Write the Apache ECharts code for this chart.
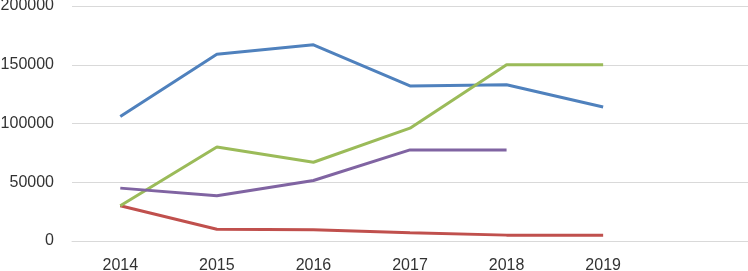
<!DOCTYPE html>
<html>
<head>
<meta charset="utf-8">
<script src="https://cdn.jsdelivr.net/npm/echarts@6/dist/echarts.min.js"></script>
<style>
  html, body { margin: 0; padding: 0; background: #fff; }
  #chart { width: 748px; height: 271px; }
</style>
</head>
<body>
<div id="chart"></div>
<script>
// categories (last slot is empty, as in the original)
var years = ['2014', '2015', '2016', '2017', '2018', '2019', ''];

var seriesBlue   = [106000, 159000, 167000, 132000, 133000, 114000, null];
var seriesRed    = [30000, 10000, 9500, 7000, 5000, 5000, null];
var seriesGreen  = [30000, 80000, 67000, 96000, 150000, 150000, null];
var seriesPurple = [45000, 38500, 51500, 77500, 77500, null, null];

var chart = echarts.init(document.getElementById('chart'));

function line(name, data, color) {
    return {
        name: name,
        type: 'line',
        data: data,
        symbol: 'none',
        connectNulls: false,
        lineStyle: { color: color, width: 3 },
        itemStyle: { color: color },
        animation: false
    };
}

chart.setOption({
    animation: false,
    grid: {
        left: 72,
        right: 0,
        top: 6,
        bottom: 30,
        containLabel: false,
        outerBoundsMode: 'none'
    },
    xAxis: {
        type: 'category',
        data: years,
        boundaryGap: true,
        axisTick: { show: false },
        axisLine: { show: true, lineStyle: { color: '#d9d9d9', width: 1 } },
        axisLabel: {
            margin: 17,
            color: '#333',
            fontSize: 16,
            fontFamily: 'Liberation Sans',
            interval: 0
        }
    },
    yAxis: {
        type: 'value',
        min: 0,
        max: 200000,
        interval: 50000,
        axisLine: { show: false },
        axisTick: { show: false },
        axisLabel: {
            margin: 18,
            color: '#333',
            fontSize: 16,
            fontFamily: 'Liberation Sans',
            formatter: function (v) { return String(v); }
        },
        splitLine: {
            lineStyle: { color: '#d9d9d9', width: 1 }
        }
    },
    series: [
        line('Blue', seriesBlue, '#4f81bd'),
        line('Red', seriesRed, '#c0504d'),
        line('Green', seriesGreen, '#9bbb59'),
        line('Purple', seriesPurple, '#8064a2')
    ]
});
</script>
</body>
</html>
